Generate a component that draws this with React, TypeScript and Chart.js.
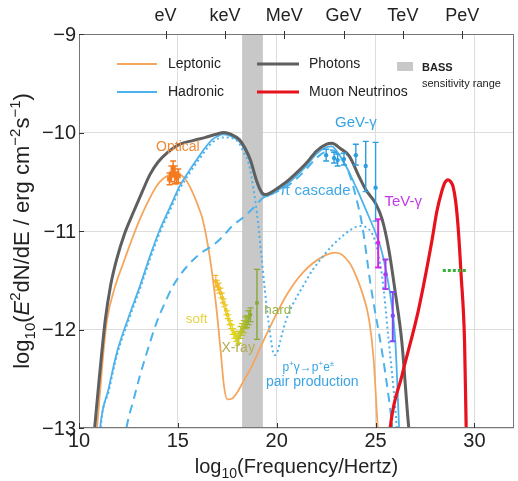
import React, { useEffect, useRef } from 'react';
import { Chart, registerables } from 'chart.js';

Chart.register(...registerables);

const FONT = '"Liberation Sans", Arial, Helvetica, sans-serif';

// ---------- axes ----------
const X_MIN = 10;
const X_MAX = 32;
const Y_MIN = -13;
const Y_MAX = -9;
const X_TICKS = [10, 15, 20, 25, 30];
const Y_TICKS = [-9, -10, -11, -12, -13];
const ENERGY_LABELS = ['eV', 'keV', 'MeV', 'GeV', 'TeV', 'PeV'];
const ENERGY_LOG_FREQ = [14.38, 17.38, 20.38, 23.38, 26.38, 29.38];
const BASS_RANGE = [18.25, 19.3];

// ---------- model curves ----------
const PHOTONS_X = [10.72, 10.8, 11.0, 11.15, 11.33, 11.6, 11.9, 12.3, 12.75, 13.2, 13.58, 14.0, 14.5, 15.08, 15.8, 16.4, 16.9, 17.33, 17.7, 18.1, 18.4, 18.67, 19.0, 19.25, 19.42, 19.7, 20.0, 20.5, 21.0, 21.5, 22.0, 22.5, 22.8, 23.2, 23.67, 24.17, 24.5, 25.0, 25.33, 25.67, 26.0, 26.33, 26.67, 26.8];
const PHOTONS_Y = [-13.15, -12.98, -12.55, -12.24, -11.9, -11.55, -11.29, -11.03, -10.81, -10.6, -10.43, -10.3, -10.2, -10.12, -10.08, -10.05, -10.02, -10.0, -10.02, -10.07, -10.16, -10.28, -10.5, -10.61, -10.63, -10.61, -10.57, -10.5, -10.41, -10.31, -10.19, -10.12, -10.11, -10.16, -10.24, -10.45, -10.58, -10.72, -10.88, -11.19, -11.63, -12.13, -12.98, -13.2];

const LEPTONIC_X = [10.85, 10.92, 11.1, 11.25, 11.42, 11.8, 12.25, 12.65, 13.08, 13.5, 13.9, 14.25, 14.58, 15.0, 15.4, 15.75, 16.05, 16.25, 16.58, 16.92, 17.17, 17.33, 17.5, 17.75, 18.0, 18.25, 18.75, 19.2, 19.67, 20.5, 21.33, 22.33, 23.0, 23.67, 24.0, 24.33, 24.67, 24.9, 25.08, 25.15];
const LEPTONIC_Y = [-13.15, -12.98, -12.55, -12.2, -11.9, -11.58, -11.32, -11.1, -10.88, -10.7, -10.55, -10.47, -10.43, -10.42, -10.48, -10.61, -10.76, -10.88, -11.22, -11.73, -12.23, -12.57, -12.71, -12.7, -12.64, -12.55, -12.37, -12.17, -11.97, -11.65, -11.42, -11.26, -11.22, -11.32, -11.45, -11.63, -11.9, -12.3, -12.91, -13.15];

const HADRONIC_X = [11.0, 11.08, 11.5, 11.92, 12.5, 13.08, 13.6, 14.08, 14.6, 15.08, 15.6, 16.08, 16.4, 16.75, 17.0, 17.25, 17.6, 18.1, 18.4, 18.67, 19.0, 19.25, 19.42, 19.7, 20.0, 20.5, 21.0, 21.5, 22.0, 22.5, 22.8, 23.0, 23.5, 24.0, 24.5, 25.0, 25.33, 25.67, 26.0, 26.17, 26.22];
const HADRONIC_Y = [-13.2, -12.98, -12.6, -12.23, -11.88, -11.56, -11.25, -10.99, -10.76, -10.55, -10.38, -10.24, -10.15, -10.07, -10.04, -10.02, -10.03, -10.09, -10.18, -10.3, -10.52, -10.63, -10.65, -10.63, -10.59, -10.53, -10.44, -10.34, -10.22, -10.15, -10.14, -10.18, -10.34, -10.55, -10.78, -11.02, -11.22, -11.56, -12.13, -12.91, -13.15];

const CASCADE_X = [12.3, 12.42, 12.75, 13.08, 13.5, 13.92, 14.3, 14.75, 15.5, 16.2, 16.75, 17.25, 17.75, 18.25, 18.75, 19.33, 19.8, 20.5, 21.0, 21.5, 22.0, 22.5, 22.8, 23.2, 23.67, 24.0, 24.33, 24.75, 25.33, 25.67, 25.85, 25.92];
const CASCADE_Y = [-13.15, -12.98, -12.72, -12.47, -12.19, -11.93, -11.75, -11.56, -11.35, -11.22, -11.15, -11.06, -10.95, -10.87, -10.78, -10.66, -10.62, -10.55, -10.47, -10.37, -10.26, -10.19, -10.18, -10.25, -10.42, -10.65, -10.95, -11.55, -12.23, -12.7, -13.0, -13.15];

const PAIR_X = [11.05, 11.1, 11.5, 11.92, 12.5, 13.08, 13.6, 14.08, 14.6, 15.08, 15.6, 16.08, 16.75, 17.33, 17.8, 18.1, 18.33, 18.6, 18.83, 19.0, 19.2, 19.4, 19.65, 19.88, 20.05, 20.2, 20.45, 20.8, 21.33, 21.8, 22.33, 22.8, 23.33, 23.8, 24.17, 24.5, 24.8, 25.0, 25.33, 25.67, 26.0, 26.12];
const PAIR_Y = [-13.2, -13.0, -12.63, -12.26, -11.91, -11.59, -11.28, -11.02, -10.79, -10.58, -10.41, -10.27, -10.1, -10.05, -10.06, -10.11, -10.2, -10.33, -10.58, -10.82, -11.2, -11.6, -12.02, -12.26, -12.22, -12.1, -11.92, -11.75, -11.56, -11.4, -11.26, -11.15, -11.05, -10.98, -10.95, -10.96, -11.02, -11.12, -11.46, -12.13, -12.81, -13.15];

const NEUTRINO_X = [25.7, 25.75, 26.33, 27.17, 27.83, 28.1, 28.33, 28.5, 28.67, 28.8, 28.92, 29.05, 29.17, 29.33, 29.5, 29.58, 29.6];
const NEUTRINO_Y = [-13.1, -12.98, -12.47, -11.8, -11.12, -10.8, -10.61, -10.51, -10.48, -10.5, -10.55, -10.7, -10.95, -11.46, -12.13, -12.98, -13.15];

const GREEN_X = [28.4, 29.65];
const GREEN_Y = [-11.4, -11.4];

// ---------- observations ----------
const OPTICAL_X = [14.58, 14.68, 14.76, 14.84, 14.93, 15.02];
const OPTICAL_Y = [-10.47, -10.42, -10.37, -10.43, -10.46, -10.44];
const OPTICAL_ERR = [0.06, 0.08, 0.08, 0.09, 0.06, 0.07];

const SOFT_X = [16.92, 17.0, 17.08, 17.17, 17.25, 17.33, 17.42, 17.5, 17.58, 17.67, 17.75, 17.83, 17.92, 18.0];
const SOFT_Y = [-11.51, -11.55, -11.58, -11.63, -11.68, -11.73, -11.8, -11.85, -11.9, -11.95, -12.0, -12.04, -12.07, -12.1];
const SOFT_ERR = [0.06, 0.05, 0.05, 0.05, 0.05, 0.04, 0.05, 0.04, 0.05, 0.04, 0.05, 0.05, 0.05, 0.06];

const HARD_X = [18.08, 18.17, 18.25, 18.33, 18.42, 18.5, 18.58, 18.67, 19.0];
const HARD_Y = [-12.08, -12.03, -12.0, -11.97, -11.93, -11.92, -11.88, -11.85, -11.73];
const HARD_LO = [-12.14, -12.09, -12.06, -12.03, -11.99, -11.98, -11.95, -11.92, -12.1];
const HARD_HI = [-12.02, -11.97, -11.94, -11.91, -11.87, -11.86, -11.81, -11.78, -11.39];

const GEV_X = [22.5, 22.9, 23.08, 23.4, 24.0, 24.5, 25.0];
const GEV_Y = [-10.23, -10.26, -10.28, -10.27, -10.23, -10.34, -10.56];
const GEV_LO = [-10.29, -10.31, -10.34, -10.33, -10.33, -10.6, -10.9];
const GEV_HI = [-10.17, -10.2, -10.22, -10.21, -10.12, -10.09, -10.1];

const TEV_X = [25.13, 25.5, 25.87];
const TEV_Y = [-11.12, -11.44, -11.86];
const TEV_LO = [-11.37, -11.59, -12.12];
const TEV_HI = [-10.88, -11.29, -11.62];

// ---------- text ----------
const LEGEND_LABELS = ['Leptonic', 'Hadronic', 'Photons', 'Muon Neutrinos'];
const BASS_LABEL = ['BASS', 'sensitivity range'];
const ANNOTATIONS = [
  { text: 'Optical', x: 15.0, y: -10.145, color: '#f08a36', size: 14 },
  { text: 'GeV-\u03b3', x: 24.0, y: -9.9, color: '#36a2e4', size: 15 },
  { text: '\u03c0 cascade', x: 21.95, y: -10.59, color: '#3ea8e6', size: 15 },
  { text: 'TeV-\u03b3', x: 26.4, y: -10.7, color: '#c23ae8', size: 15 },
  { text: 'soft', x: 15.95, y: -11.9, color: '#e6d23e', size: 13.5 },
  { text: 'X-ray', x: 18.05, y: -12.19, color: '#b4ad52', size: 14 },
  { text: 'hard', x: 20.05, y: -11.8, color: '#9db548', size: 13.5 },
  { text: 'pair production', x: 21.8, y: -12.53, color: '#3aa4e4', size: 14 },
];
const REACTION_POS = { x: 21.6, y: -12.38 };

type Seg = { t: string; s?: 'sub' | 'sup'; i?: boolean };
const X_TITLE: Seg[] = [{ t: 'log' }, { t: '10', s: 'sub' }, { t: '(Frequency/Hertz)' }];
const Y_TITLE: Seg[] = [
  { t: 'log' }, { t: '10', s: 'sub' }, { t: '(' }, { t: 'E', i: true }, { t: '2', s: 'sup' },
  { t: 'dN/dE / erg cm' }, { t: '\u22122', s: 'sup' }, { t: 's' }, { t: '\u22121', s: 'sup' }, { t: ')' },
];
const REACTION: Seg[] = [
  { t: 'p' }, { t: '+', s: 'sup' }, { t: '\u03b3\u2192p' }, { t: '+', s: 'sup' }, { t: 'e' }, { t: '\u00b1', s: 'sup' },
];

// ---------- helpers ----------
const pts = (xs: number[], ys: number[]) => xs.map((x, i) => ({ x, y: ys[i] }));

function drawRich(ctx: CanvasRenderingContext2D, segs: Seg[], x: number, y: number, size: number, color: string, align: 'center' | 'left') {
  const font = (sg: Seg) => `${sg.i ? 'italic ' : ''}${sg.s ? Math.round(size * 0.68) : size}px ${FONT}`;
  let w = 0;
  for (const sg of segs) { ctx.font = font(sg); w += ctx.measureText(sg.t).width; }
  let cx = align === 'center' ? x - w / 2 : x;
  ctx.fillStyle = color;
  ctx.textAlign = 'left';
  ctx.textBaseline = 'alphabetic';
  for (const sg of segs) {
    ctx.font = font(sg);
    const dy = sg.s === 'sub' ? size * 0.25 : sg.s === 'sup' ? -size * 0.42 : 0;
    ctx.fillText(sg.t, cx, y + dy);
    cx += ctx.measureText(sg.t).width;
  }
}

function mix(a: string, b: string, t: number) {
  const pa = [1, 3, 5].map((i) => parseInt(a.slice(i, i + 2), 16));
  const pb = [1, 3, 5].map((i) => parseInt(b.slice(i, i + 2), 16));
  const c = pa.map((v, i) => Math.round(v + (pb[i] - v) * t));
  return `rgb(${c[0]},${c[1]},${c[2]})`;
}
const xrayColor = (t: number) => (t < 0.5 ? mix('#f2b82a', '#e4d824', t / 0.5) : mix('#e4d824', '#86a838', (t - 0.5) / 0.5));
const tevColor = (t: number) => mix('#d826e6', '#7a4cf4', t);

const COLORS = {
  photons: '#5f5f5f',
  leptonic: '#f5a65e',
  hadronic: '#4cb2ec',
  neutrino: '#e8121c',
  green: '#36b236',
  optical: '#f57a1e',
  gev: '#2c9ee2',
  bass: '#c8c8c8',
  grid: '#dddddd',
  frame: '#767676',
  text: '#222222',
};

const errorBars = [
  { xs: OPTICAL_X, lo: OPTICAL_Y.map((v, i) => v - OPTICAL_ERR[i]), hi: OPTICAL_Y.map((v, i) => v + OPTICAL_ERR[i]), color: () => COLORS.optical, cap: 3, w: 1.5 },
  { xs: SOFT_X, lo: SOFT_Y.map((v, i) => v - SOFT_ERR[i]), hi: SOFT_Y.map((v, i) => v + SOFT_ERR[i]), color: (i: number) => xrayColor(i / (SOFT_X.length + HARD_X.length - 1)), cap: 2.5, w: 1.2 },
  { xs: HARD_X, lo: HARD_LO, hi: HARD_HI, color: (i: number) => xrayColor((i + SOFT_X.length) / (SOFT_X.length + HARD_X.length - 1)), cap: 3, w: 1.4 },
  { xs: GEV_X, lo: GEV_LO, hi: GEV_HI, color: () => COLORS.gev, cap: 3, w: 1.4 },
  { xs: TEV_X, lo: TEV_LO, hi: TEV_HI, color: (i: number) => tevColor(i / (TEV_X.length - 1)), cap: 3, w: 2 },
];

const decorPlugin = {
  id: 'decor',
  beforeDatasetsDraw(chart: any) {
    const { ctx, chartArea: a, scales } = chart;
    const x = scales.x;
    ctx.save();
    const x0 = x.getPixelForValue(BASS_RANGE[0]);
    const x1 = x.getPixelForValue(BASS_RANGE[1]);
    ctx.fillStyle = COLORS.bass;
    ctx.fillRect(x0, a.top, x1 - x0, a.bottom - a.top);
    ctx.restore();
  },
  afterDatasetsDraw(chart: any) {
    const { ctx, scales } = chart;
    const x = scales.x, y = scales.y;
    ctx.save();
    for (const eb of errorBars) {
      eb.xs.forEach((xv: number, i: number) => {
        const px = x.getPixelForValue(xv);
        const pl = y.getPixelForValue(eb.lo[i]);
        const ph = y.getPixelForValue(eb.hi[i]);
        ctx.strokeStyle = eb.color(i);
        ctx.lineWidth = eb.w;
        ctx.beginPath();
        ctx.moveTo(px, pl); ctx.lineTo(px, ph);
        ctx.moveTo(px - eb.cap, pl); ctx.lineTo(px + eb.cap, pl);
        ctx.moveTo(px - eb.cap, ph); ctx.lineTo(px + eb.cap, ph);
        ctx.stroke();
      });
    }
    ctx.restore();
  },
  afterDraw(chart: any) {
    const { ctx, chartArea: a, scales } = chart;
    const x = scales.x, y = scales.y;
    ctx.save();
    // frame
    ctx.strokeStyle = COLORS.frame;
    ctx.lineWidth = 1;
    ctx.strokeRect(Math.round(a.left) + 0.5, Math.round(a.top) + 0.5, Math.round(a.right - a.left) - 1, Math.round(a.bottom - a.top) - 1);
    // ticks
    ctx.strokeStyle = '#333';
    ctx.beginPath();
    X_TICKS.forEach((v) => {
      const px = Math.round(x.getPixelForValue(v)) + 0.5;
      ctx.moveTo(px, a.bottom); ctx.lineTo(px, a.bottom - 5);
    });
    Y_TICKS.forEach((v) => {
      const py = Math.round(y.getPixelForValue(v)) + 0.5;
      ctx.moveTo(a.left, py); ctx.lineTo(a.left + 5, py);
    });
    ENERGY_LOG_FREQ.forEach((v) => {
      const px = Math.round(x.getPixelForValue(v)) + 0.5;
      ctx.moveTo(px, a.top - 3); ctx.lineTo(px, a.top + 5);
    });
    ctx.stroke();
    // tick labels
    ctx.fillStyle = COLORS.text;
    ctx.font = `20px ${FONT}`;
    ctx.textAlign = 'right';
    ctx.textBaseline = 'middle';
    Y_TICKS.forEach((v) => {
      ctx.fillText((v < 0 ? '\u2212' : '') + Math.abs(v), a.left - 3, y.getPixelForValue(v) + 1);
    });
    ctx.textAlign = 'center';
    X_TICKS.forEach((v) => {
      ctx.fillText(String(v), x.getPixelForValue(v), a.bottom + 13);
    });
    ctx.font = `18px ${FONT}`;
    ENERGY_LABELS.forEach((lab, i) => {
      ctx.fillText(lab, x.getPixelForValue(ENERGY_LOG_FREQ[i]), 16);
    });
    // axis titles
    drawRich(ctx, X_TITLE, (a.left + a.right) / 2, 473, 20, COLORS.text, 'center');
    ctx.save();
    ctx.translate(29, (a.top + a.bottom) / 2);
    ctx.rotate(-Math.PI / 2);
    drawRich(ctx, Y_TITLE, 0, 0, 22, COLORS.text, 'center');
    ctx.restore();
    // annotations
    ctx.textAlign = 'center';
    ctx.textBaseline = 'middle';
    for (const an of ANNOTATIONS) {
      ctx.font = `${an.size}px ${FONT}`;
      ctx.fillStyle = an.color;
      ctx.fillText(an.text, x.getPixelForValue(an.x), y.getPixelForValue(an.y));
    }
    drawRich(ctx, REACTION, x.getPixelForValue(REACTION_POS.x), y.getPixelForValue(REACTION_POS.y) + 4, 12, '#3aa4e4', 'center');
    // legend
    const legend = [
      { label: LEGEND_LABELS[0], color: COLORS.leptonic, w: 1.8, x0: 117, x1: 157, ty: 64, tx: 168 },
      { label: LEGEND_LABELS[1], color: COLORS.hadronic, w: 1.8, x0: 117, x1: 157, ty: 92, tx: 168 },
      { label: LEGEND_LABELS[2], color: COLORS.photons, w: 3, x0: 257, x1: 299, ty: 64, tx: 309 },
      { label: LEGEND_LABELS[3], color: COLORS.neutrino, w: 3, x0: 257, x1: 299, ty: 92, tx: 309 },
    ];
    ctx.textAlign = 'left';
    ctx.textBaseline = 'middle';
    for (const it of legend) {
      ctx.strokeStyle = it.color;
      ctx.lineWidth = it.w;
      ctx.beginPath(); ctx.moveTo(it.x0, it.ty); ctx.lineTo(it.x1, it.ty); ctx.stroke();
      ctx.fillStyle = COLORS.text;
      ctx.font = `14px ${FONT}`;
      ctx.fillText(it.label, it.tx, it.ty);
    }
    ctx.fillStyle = COLORS.bass;
    ctx.fillRect(397, 62, 16, 9);
    ctx.fillStyle = COLORS.text;
    ctx.font = `bold 11px ${FONT}`;
    ctx.fillText(BASS_LABEL[0], 422, 68);
    ctx.font = `11px ${FONT}`;
    ctx.fillText(BASS_LABEL[1], 422, 84);
    ctx.restore();
  },
};

export default function App() {
  const ref = useRef<HTMLCanvasElement | null>(null);
  useEffect(() => {
    document.body.style.margin = '0';
    const canvas = ref.current;
    if (!canvas) return;
    const line = (data: any, color: string, width: number, dash: number[], order: number) => ({
      type: 'line',
      data,
      showLine: true,
      borderColor: color,
      backgroundColor: color,
      borderWidth: width,
      borderDash: dash,
      pointRadius: 0,
      fill: false,
      cubicInterpolationMode: 'monotone',
      order,
    });
    const nX = SOFT_X.length + HARD_X.length - 1;
    const points = (data: any, color: any, radius: number, style: string, order: number) => ({
      type: 'scatter',
      data,
      showLine: false,
      pointStyle: style,
      pointRadius: radius,
      pointBorderWidth: 0,
      backgroundColor: color,
      borderColor: color,
      order,
    });
    const chart = new Chart(canvas, {
      type: 'scatter',
      data: {
        datasets: [
          points(pts(OPTICAL_X, OPTICAL_Y), COLORS.optical, 3.5, 'rect', 0),
          points(pts(SOFT_X, SOFT_Y), (c: any) => xrayColor(c.dataIndex / nX), 2.5, 'rect', 0),
          points(pts(HARD_X, HARD_Y), (c: any) => xrayColor((c.dataIndex + SOFT_X.length) / nX), 2.5, 'rect', 0),
          points(pts(GEV_X, GEV_Y), COLORS.gev, 2.2, 'circle', 0),
          points(pts(TEV_X, TEV_Y), (c: any) => tevColor(c.dataIndex / (TEV_X.length - 1)), 2.2, 'circle', 0),
          line(pts(GREEN_X, GREEN_Y), COLORS.green, 3, [3, 2], 1),
          line(pts(NEUTRINO_X, NEUTRINO_Y), COLORS.neutrino, 3.2, [], 2),
          line(pts(PHOTONS_X, PHOTONS_Y), COLORS.photons, 3, [], 3),
          line(pts(HADRONIC_X, HADRONIC_Y), COLORS.hadronic, 1.8, [], 4),
          line(pts(CASCADE_X, CASCADE_Y), COLORS.hadronic, 2, [9, 6], 5),
          line(pts(PAIR_X, PAIR_Y), COLORS.hadronic, 2, [2, 3], 6),
          line(pts(LEPTONIC_X, LEPTONIC_Y), COLORS.leptonic, 1.8, [], 7),
        ] as any,
      },
      options: {
        responsive: false,
        animation: false,
        events: [],
        layout: { padding: { left: 0, right: 1, top: 0, bottom: 0 } },
        plugins: { legend: { display: false }, tooltip: { enabled: false } },
        scales: {
          x: {
            type: 'linear',
            position: 'bottom',
            min: X_MIN,
            max: X_MAX,
            afterBuildTicks: (s: any) => { s.ticks = X_TICKS.map((v) => ({ value: v })); },
            afterFit: (s: any) => { s.height = 53; },
            ticks: { display: false },
            grid: { color: COLORS.grid, drawTicks: false },
            border: { display: false },
          },
          x2: {
            type: 'linear',
            position: 'top',
            min: X_MIN,
            max: X_MAX,
            afterBuildTicks: (s: any) => { s.ticks = ENERGY_LOG_FREQ.map((v) => ({ value: v })); },
            afterFit: (s: any) => { s.height = 34; },
            ticks: { display: false },
            grid: { display: false, drawTicks: false },
            border: { display: false },
          },
          y: {
            type: 'linear',
            min: Y_MIN,
            max: Y_MAX,
            afterBuildTicks: (s: any) => { s.ticks = Y_TICKS.map((v) => ({ value: v })); },
            afterFit: (s: any) => { s.width = 79; },
            ticks: { display: false },
            grid: { color: COLORS.grid, drawTicks: false },
            border: { display: false },
          },
        },
      } as any,
      plugins: [decorPlugin],
    });
    return () => chart.destroy();
  }, []);
  return (
    <div style={{ position: 'fixed', left: 0, top: 0, width: 518, height: 481, background: '#fff' }}>
      <canvas ref={ref} width={518} height={481} style={{ display: 'block' }} />
    </div>
  );
}
